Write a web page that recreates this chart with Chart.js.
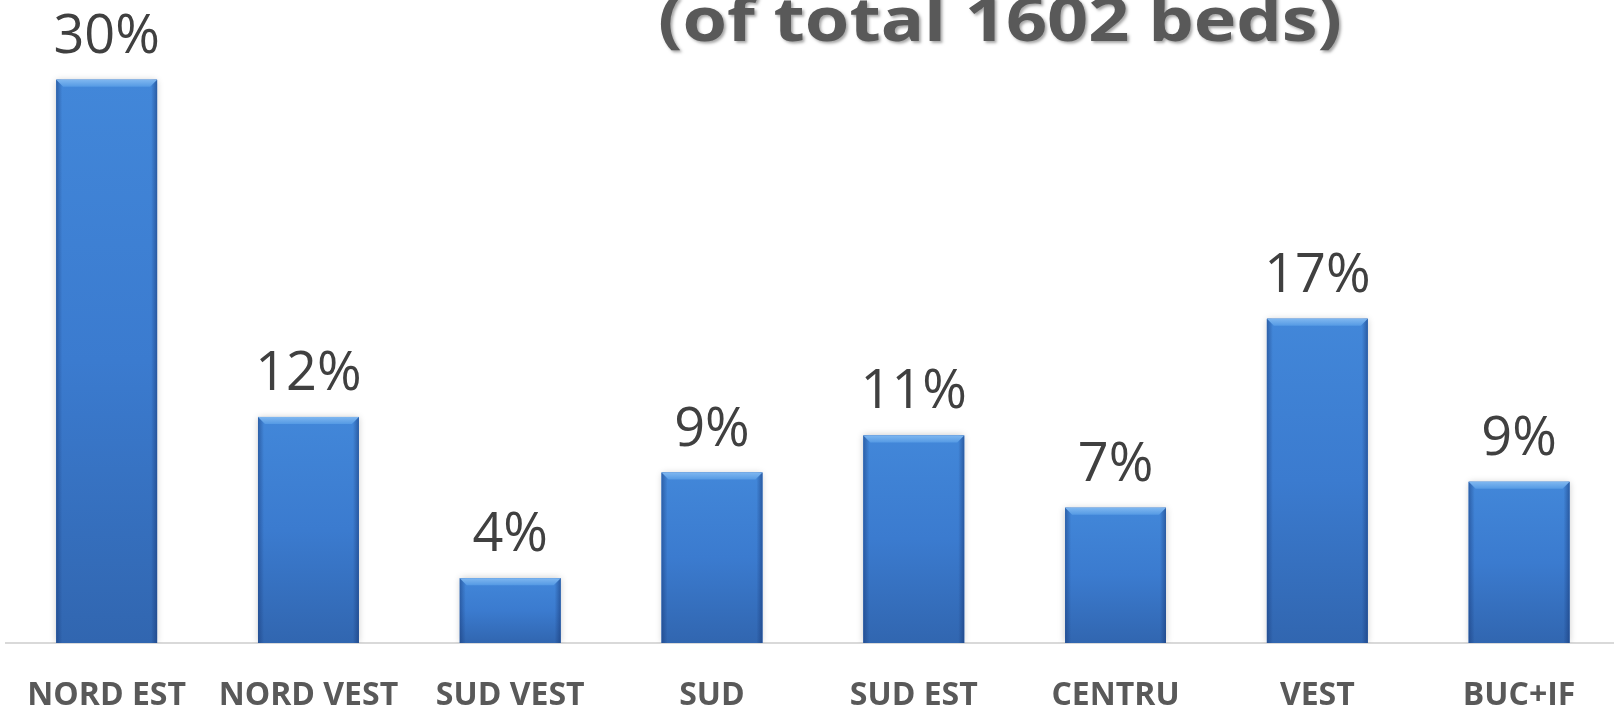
<!DOCTYPE html>
<html><head><meta charset="utf-8">
<script src="https://cdn.jsdelivr.net/npm/chart.js@4/dist/chart.umd.min.js"></script>
<style>
html,body{margin:0;padding:0;background:#fff;overflow:hidden;width:1614px;height:706px}
#wrap{position:absolute;left:0;top:0;width:1620px;height:706px}
</style></head><body>
<div id="wrap"><canvas id="c"></canvas></div>
<script>
const categories = ['NORD EST','NORD VEST','SUD VEST','SUD','SUD EST','CENTRU','VEST','BUC+IF'];
const shares = [30.4, 12.2, 3.5, 9.2, 11.2, 7.3, 17.5, 8.7];
const shareLabels = ['30%','12%','4%','9%','11%','7%','17%','9%'];
const titleText = '(of total 1602 beds)';

const barLook = {
  id: 'barLook',
  beforeDatasetsDraw(chart) {
    const ctx = chart.ctx;
    ctx.save();
    ctx.shadowColor = 'rgba(0,0,0,0.22)';
    ctx.shadowBlur = 7;
    ctx.shadowOffsetX = 0;
    ctx.shadowOffsetY = 0;
  },
  afterDatasetsDraw(chart) {
    const ctx = chart.ctx;
    ctx.restore();
    const meta = chart.getDatasetMeta(0);
    meta.data.forEach((el, i) => {
      const p = el.getProps(['x','y','base','width'], true);
      const l = p.x - p.width/2, r = p.x + p.width/2, t = p.y, b = p.base;
      const h = b - t;
      let g = ctx.createLinearGradient(0, t, 0, b);
      g.addColorStop(0, '#4287d9');
      g.addColorStop(0.5, '#3b7bcf');
      g.addColorStop(1, '#3166b0');
      ctx.fillStyle = g;
      ctx.fillRect(l, t, p.width, h);
      const e = 6;
      let gl = ctx.createLinearGradient(l, 0, l + e, 0);
      gl.addColorStop(0, 'rgba(20,50,110,0.45)');
      gl.addColorStop(1, 'rgba(20,50,110,0)');
      ctx.fillStyle = gl;
      ctx.fillRect(l, t, e, h);
      let gr = ctx.createLinearGradient(r - e, 0, r, 0);
      gr.addColorStop(0, 'rgba(20,50,110,0)');
      gr.addColorStop(1, 'rgba(20,50,110,0.5)');
      ctx.fillStyle = gr;
      ctx.fillRect(r - e, t, e, h);
      const bv = 7;
      let gt = ctx.createLinearGradient(0, t, 0, t + bv);
      gt.addColorStop(0, '#7fb7f0');
      gt.addColorStop(1, '#559ae4');
      ctx.fillStyle = gt;
      ctx.beginPath();
      ctx.moveTo(l, t); ctx.lineTo(r, t); ctx.lineTo(r - bv, t + bv); ctx.lineTo(l + bv, t + bv);
      ctx.closePath(); ctx.fill();
      ctx.save();
      ctx.font = '54px "Open Sans"';
      ctx.fillStyle = '#404040';
      ctx.textAlign = 'center';
      ctx.textBaseline = 'alphabetic';
      ctx.fillText(shareLabels[i], p.x, t - 27);
      ctx.restore();
    });
  },
  afterDraw(chart) {
    const ctx = chart.ctx;
    ctx.save();
    ctx.font = 'bold 60px "Open Sans"';
    const w = ctx.measureText(titleText).width;
    ctx.translate(1000, 41);
    ctx.scale(684 / w, 1);
    ctx.shadowColor = 'rgba(0,0,0,0.35)';
    ctx.shadowBlur = 3;
    ctx.shadowOffsetX = 2;
    ctx.shadowOffsetY = 2;
    ctx.fillStyle = '#595959';
    ctx.textAlign = 'center';
    ctx.textBaseline = 'alphabetic';
    ctx.fillText(titleText, 0, 0);
    ctx.restore();
  }
};

new Chart(document.getElementById('c'), {
  type: 'bar',
  data: {
    labels: categories,
    datasets: [{
      data: shares,
      backgroundColor: '#3b7bcf',
      borderWidth: 0,
      categoryPercentage: 1.0,
      barPercentage: 0.5
    }]
  },
  options: {
    responsive: true,
    maintainAspectRatio: false,
    animation: false,
    layout: { padding: { left: 5, right: 0, top: 0, bottom: 0 } },
    plugins: { legend: { display: false }, tooltip: { enabled: false }, title: { display: false } },
    scales: {
      y: { display: false, min: 0, max: 34.7 },
      x: {
        grid: { display: false, drawTicks: false },
        border: { display: true, color: '#d9d9d9', width: 2 },
        afterFit(scale) { scale.height = 63; },
        ticks: {
          color: '#595959',
          font: { family: '"Open Sans"', size: 32, weight: 'bold', lineHeight: 1.6 },
          padding: 27,
          maxRotation: 0,
          autoSkip: false
        }
      }
    }
  },
  plugins: [barLook]
});
</script>
</body></html>
